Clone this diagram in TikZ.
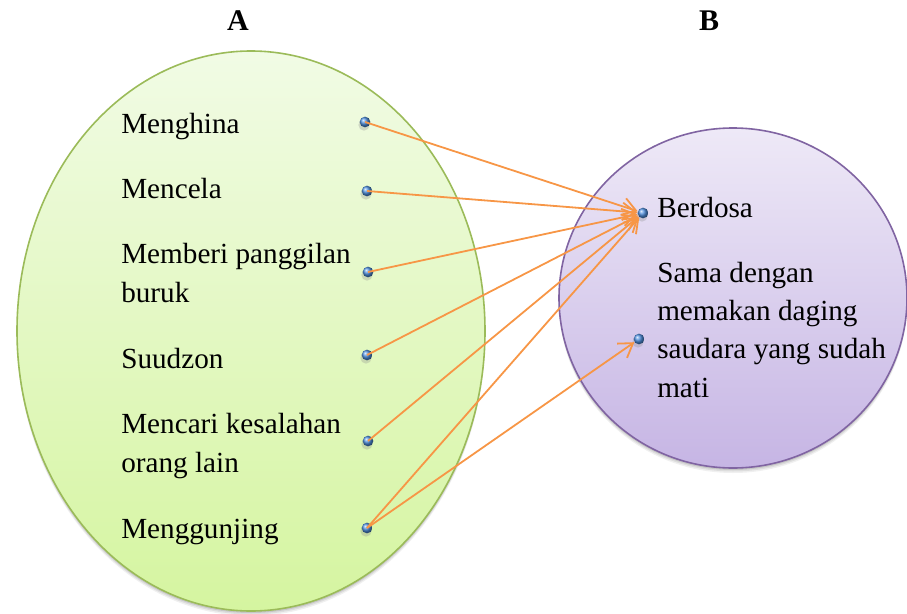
\documentclass[tikz,border=0pt]{standalone}
\usepackage{fontspec}
\setmainfont{Liberation Serif}
\usetikzlibrary{arrows.meta}

\definecolor{greenedge}{RGB}{155,187,89}
\definecolor{greentop}{RGB}{241,251,229}
\definecolor{greenbot}{RGB}{213,245,160}
\definecolor{violetedge}{RGB}{128,100,162}
\definecolor{violettop}{RGB}{238,233,247}
\definecolor{violetbot}{RGB}{198,181,228}
\definecolor{linkorange}{RGB}{247,150,70}
\definecolor{dotblue}{RGB}{80,145,225}

\tikzset{
  item/.style={anchor=base west, inner sep=0pt, align=left,
    font=\fontsize{21.9}{29.2}\selectfont},
  head/.style={anchor=base, inner sep=0pt,
    font=\fontsize{22.5}{27}\selectfont\bfseries},
  dot/.style={circle, inner sep=0pt, minimum size=8pt,
    shading=ball, ball color=dotblue},
  dotshadow/.style={circle, fill=black!45, opacity=0.3, inner sep=0pt, minimum size=8.5pt},
  link/.style={draw=linkorange, line width=1.35pt,
    -{Straight Barb[length=10pt,width=13pt,line width=1.35pt]}},
}

\begin{document}
\begin{tikzpicture}[x=0.75pt,y=-0.75pt]
  \useasboundingbox (0,0) rectangle (907,614);

  % soft shadows under the two sets
  \foreach \o/\a in {5/0.06,3.5/0.08,2/0.10}{
    \fill[black,opacity=\a] (251,331+\o) ellipse [x radius=234, y radius=280];
    \fill[black,opacity=\a] (733,298+\o) ellipse [x radius=174, y radius=170];
  }

  % set A and set B
  \shade[top color=greentop, bottom color=greenbot, draw=greenedge, line width=1.2pt]
    (251,331) ellipse [x radius=234, y radius=280];
  \shade[top color=violettop, bottom color=violetbot, draw=violetedge, line width=1.2pt]
    (733,298) ellipse [x radius=174, y radius=170];

  % headings
  \node[head] (hA) at (238,31) {A};
  \node[head] (hB) at (709,31) {B};

  % members of A (a multi-line node sits on the baseline of its last line)
  \node[item] (a1) at (121,133) {Menghina};
  \node[item] (a2) at (121,198) {Mencela};
  \node[item] (a3) at (121,302) {Memberi panggilan\\buruk};
  \node[item] (a4) at (121,368) {Suudzon};
  \node[item] (a5) at (121,472) {Mencari kesalahan\\orang lain};
  \node[item] (a6) at (121,538) {Menggunjing};

  % members of B
  \node[item] (b1) at (657,217) {Berdosa};
  \node[item, font=\fontsize{21.9}{28.6}\selectfont] (b2) at (657,397)
    {Sama dengan\\memakan daging\\saudara yang sudah\\mati};

  % connection points
  \foreach \n/\x/\y in {p1/365/122, p2/367/191, p3/368/272, p4/367/355,
                        p5/368/441, p6/367/528, q1/643/213, q2/639/339}{
    \node[dotshadow] at (\x-1,\y+3) {};
    \node[dot] (\n) at (\x,\y) {};
  }

  % relation arrows
  \draw[link] (p1.center) -- (q1);
  \draw[link] (p2.center) -- (q1);
  \draw[link] (p3.center) -- (q1);
  \draw[link] (p4.center) -- (q1);
  \draw[link] (p5.center) -- (q1);
  \draw[link] (p6.center) -- (q1);
  \draw[link] (p6.center) -- (q2);
\end{tikzpicture}
\end{document}
